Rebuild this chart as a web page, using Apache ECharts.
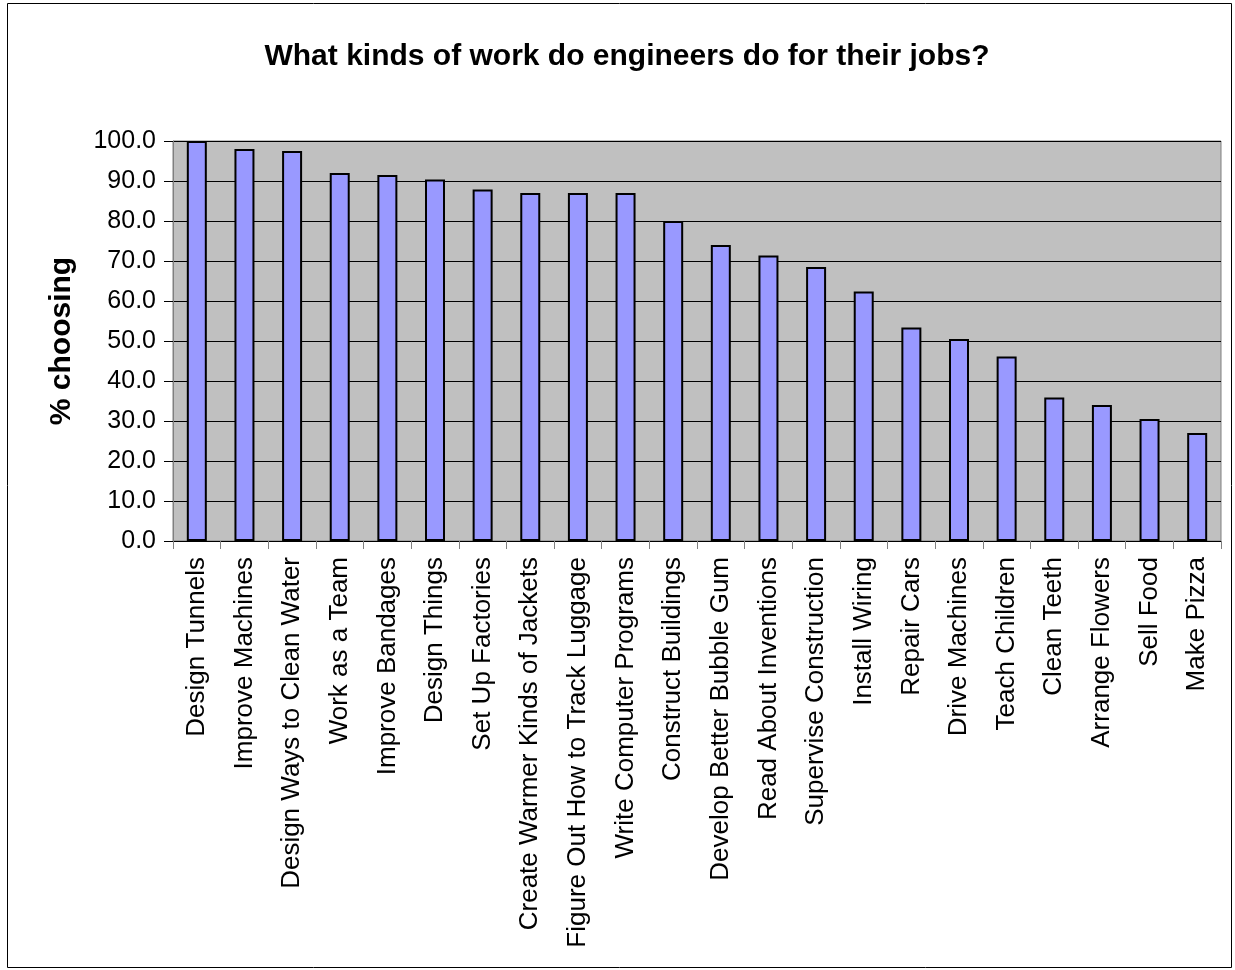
<!DOCTYPE html>
<html>
<head>
<meta charset="utf-8">
<script src="https://cdn.jsdelivr.net/npm/echarts@6/dist/echarts.min.js"></script>
<style>
  html, body { margin: 0; padding: 0; background: #fff; }
  #chart { width: 1235px; height: 970px; }
</style>
</head>
<body>
<div id="chart"></div>
<script>
// Activities, in the order shown
const categories = [
    'Design Tunnels', 'Improve Machines', 'Design Ways to Clean Water', 'Work as a Team',
    'Improve Bandages', 'Design Things', 'Set Up Factories', 'Create Warmer Kinds of Jackets',
    'Figure Out How to Track Luggage', 'Write Computer Programs', 'Construct Buildings',
    'Develop Better Bubble Gum', 'Read About Inventions', 'Supervise Construction',
    'Install Wiring', 'Repair Cars', 'Drive Machines', 'Teach Children', 'Clean Teeth',
    'Arrange Flowers', 'Sell Food', 'Make Pizza'
];

// % choosing
const percentChoosing = [
    100.0, 98.0, 97.5, 92.0, 91.5, 90.4, 87.9, 87.0, 87.0, 87.0, 80.0,
    74.0, 71.4, 68.5, 62.4, 53.4, 50.5, 46.1, 35.9, 34.0, 30.5, 27.0
];

const yTicks = [0, 10, 20, 30, 40, 50, 60, 70, 80, 90, 100];

const fontFamily = '"Liberation Sans", Arial, sans-serif';

window.onload = () => {
    const chart = echarts.init(document.getElementById('chart'));

    chart.setOption({
        animation: false,
        backgroundColor: '#ffffff',
        title: {
            text: 'What kinds of work do engineers do for their jobs?',
            left: 622,
            top: 37,
            textAlign: 'center',
            textStyle: { fontFamily, fontSize: 30, fontWeight: 'bold', color: '#000' }
        },
        graphic: [{
            type: 'rect',
            shape: { x: 7.5, y: 3.5, width: 1224, height: 964 },
            style: { fill: 'none', stroke: '#000', lineWidth: 1 },
            silent: true
        }],
        grid: {
            left: 173,
            top: 141,
            right: 14,
            height: 400,
            show: true,
            backgroundColor: '#c0c0c0',
            borderColor: '#808080',
            borderWidth: 1
        },
        xAxis: {
            type: 'category',
            data: categories,
            axisLine: { show: true, lineStyle: { color: '#000', width: 1 } },
            axisTick: { show: true, length: 8, lineStyle: { color: '#808080' } },
            axisLabel: {
                rotate: 90,
                interval: 0,
                margin: 16,
                fontFamily,
                fontSize: 26,
                color: '#000'
            },
            splitLine: { show: false }
        },
        yAxis: {
            type: 'value',
            min: yTicks[0],
            max: yTicks[yTicks.length - 1],
            interval: 10,
            name: '% choosing',
            nameLocation: 'middle',
            nameRotate: 90,
            nameGap: 96,
            nameTextStyle: { fontFamily, fontSize: 30, fontWeight: 'bold', color: '#000' },
            axisLine: { show: true, lineStyle: { color: '#808080' } },
            axisTick: { show: true, length: 9, lineStyle: { color: '#000' } },
            axisLabel: {
                margin: 17,
                fontFamily,
                fontSize: 25,
                color: '#000',
                formatter: v => v.toFixed(1)
            },
            splitLine: { show: true, lineStyle: { color: '#000', width: 1 } }
        },
        series: [{
            type: 'bar',
            data: percentChoosing,
            barWidth: 20,
            itemStyle: {
                color: '#9999ff',
                borderColor: '#000',
                borderWidth: 2
            }
        }]
    });
};
</script>
</body>
</html>
